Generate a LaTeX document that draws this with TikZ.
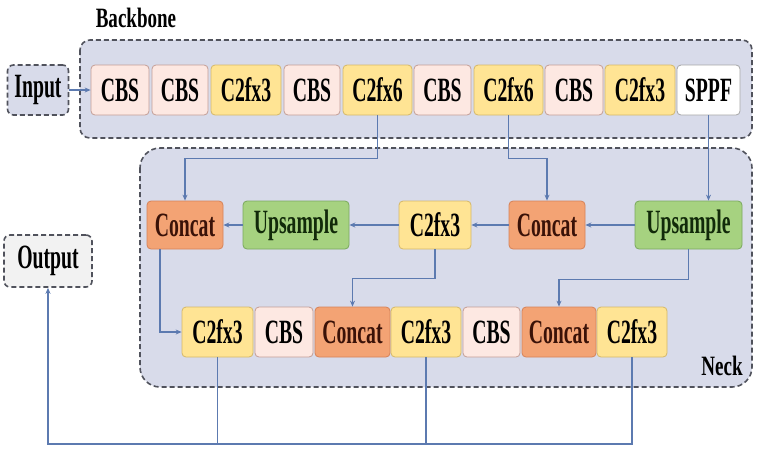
\documentclass[tikz,border=0pt]{standalone}
\usepackage{fontspec}
\setmainfont{Liberation Serif}
\newfontfamily\boxfont{Liberation Serif}[FakeStretch=0.58]
\newfontfamily\labfont{Liberation Serif}[FakeStretch=0.68]
\usepackage{xcolor}
\usetikzlibrary{positioning,arrows.meta,calc}

\definecolor{grpfill}{RGB}{216,219,234}
\definecolor{grpline}{RGB}{80,82,92}
\definecolor{cbsfill}{RGB}{253,232,226}
\definecolor{cbsline}{RGB}{196,158,150}
\definecolor{cffill}{RGB}{255,228,148}
\definecolor{cfline}{RGB}{214,184,104}
\definecolor{catfill}{RGB}{243,163,116}
\definecolor{catline}{RGB}{214,130,88}
\definecolor{cattext}{RGB}{58,18,8}
\definecolor{upfill}{RGB}{166,210,128}
\definecolor{upline}{RGB}{122,168,94}
\definecolor{uptext}{RGB}{18,42,10}
\definecolor{arrowc}{RGB}{92,122,176}
\definecolor{iofill}{RGB}{242,242,242}

\begin{document}
\begin{tikzpicture}[x=1pt, y=-1pt, >={Stealth[length=6pt,width=5pt]},
  grp/.style={draw=grpline, fill=grpfill, dashed, dash pattern=on 5pt off 3pt, line width=1.6pt, rounded corners=10pt},
  blk/.style={draw, rounded corners=4pt, line width=0.8pt, minimum height=50pt, inner sep=0pt,
    font=\boxfont\bfseries\fontsize{34}{34}\selectfont},
  cbs/.style={blk, fill=cbsfill, draw=cbsline},
  cf/.style={blk, fill=cffill, draw=cfline},
  cat/.style={blk, fill=catfill, draw=catline, text=cattext},
  ups/.style={blk, fill=upfill, draw=upline, text=uptext},
  sppf/.style={blk, fill=white, draw=gray!70},
  io/.style={blk, draw=grpline, dashed, dash pattern=on 5pt off 3pt, line width=1.6pt, rounded corners=6pt},
  grplab/.style={font=\labfont\bfseries\fontsize{28}{28}\selectfont},
  arr/.style={draw=arrowc, line width=1.1pt}]
  \useasboundingbox (0,0) rectangle (768,448);

  % groups
  \draw[grp] (80,40) rectangle (752,138);
  \draw[grp, rounded corners=20pt] (140,148) rectangle (752,387);
  \node[grplab] (bblab) at (136,18) {Backbone};
  \node[grplab] (necklab) at (722,366) {Neck};

  % input / output
  \node[io, fill=grpfill, minimum width=61pt] (in) at (38,90) {Input};
  \node[io, fill=iofill, minimum width=88pt, minimum height=52pt] (out) at (48,261) {Output};

  % backbone row
  \node[cbs, minimum width=58pt] (b1) at (120,90) {CBS};
  \node[cbs, minimum width=56pt] (b2) at (180,90) {CBS};
  \node[cf,  minimum width=70pt] (b3) at (246,90) {C2fx3};
  \node[cbs, minimum width=56pt] (b4) at (312,90) {CBS};
  \node[cf,  minimum width=69pt] (b5) at (377.5,90) {C2fx6};
  \node[cbs, minimum width=57pt] (b6) at (442.5,90) {CBS};
  \node[cf,  minimum width=69pt] (b7) at (508.5,90) {C2fx6};
  \node[cbs, minimum width=58pt] (b8) at (574,90) {CBS};
  \node[cf,  minimum width=70pt] (b9) at (640,90) {C2fx3};
  \node[sppf, minimum width=63pt] (b10) at (708.5,90) {SPPF};

  % neck, upper row
  \node[cat, minimum width=76pt, minimum height=48pt] (m1) at (185,225) {Concat};
  \node[ups, minimum width=106pt, minimum height=48pt] (m2) at (296,225) {Upsample};
  \node[cf,  minimum width=72pt, minimum height=48pt] (m3) at (435,225) {C2fx3};
  \node[cat, minimum width=76pt, minimum height=48pt] (m4) at (547,225) {Concat};
  \node[ups, minimum width=107pt, minimum height=48pt] (m5) at (688.5,225) {Upsample};

  % neck, lower row
  \node[cf,  minimum width=71pt] (n1) at (217.5,332) {C2fx3};
  \node[cbs, minimum width=58pt] (n2) at (284,332) {CBS};
  \node[cat, minimum width=75pt] (n3) at (352.5,332) {Concat};
  \node[cf,  minimum width=70pt] (n4) at (426,332) {C2fx3};
  \node[cbs, minimum width=57pt] (n5) at (491.5,332) {CBS};
  \node[cat, minimum width=74pt] (n6) at (559,332) {Concat};
  \node[cf,  minimum width=70pt] (n7) at (632,332) {C2fx3};

  % connectors
  \draw[arr,->] (in) -- (b1);
  \draw[arr,->] (b5.south) -- ++(0,43) -| (m1.north);
  \draw[arr,->] (b7.south) -- ++(0,43) -| (m4.north);
  \draw[arr,->] (b10.south) -- (b10.south |- m5.north);
  \draw[arr,->] (m5) -- (m4);
  \draw[arr,->] (m4) -- (m3);
  \draw[arr,->] (m3) -- (m2);
  \draw[arr,->] (m2) -- (m1);
  \draw[arr,->] (m3.south) -- ++(0,29) -| (n3.north);
  \draw[arr,->] (m5.south) -- ++(0,30) -| (n6.north);
  \draw[arr,->] ([xshift=-25pt]m1.south) |- (n1.west);
  \coordinate (bus) at (48,444);
  \draw[arr,->] (n7.south) |- (bus) -- (out.south);
  \draw[arr] (n1.south) -- (n1.south |- bus);
  \draw[arr] (n4.south) -- (n4.south |- bus);
\end{tikzpicture}
\end{document}
